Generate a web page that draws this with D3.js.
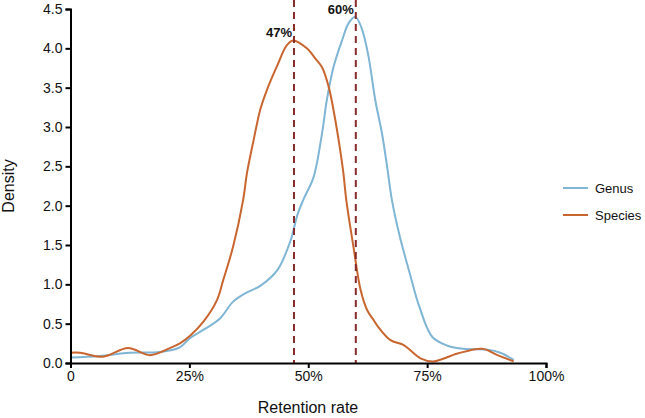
<!DOCTYPE html>
<html><head><meta charset="utf-8">
<script src="https://cdn.jsdelivr.net/npm/d3@7"></script>
<style>body{margin:0;background:#fff}text{font-family:"Liberation Sans",Arial,sans-serif}</style>
</head><body><svg id="c" width="645" height="418"></svg>
<script>
const genusX = [0,6.2,12.5,18.8,23,25.2,27.9,31.5,34.2,37.2,39.9,43.5,46.3,47.7,49,51.1,52.9,53.9,55.3,57.1,58.5,59.9,61.2,62.6,64.1,65.5,66.6,67.6,69.2,71.3,73.4,76.1,79.3,82.6,87.7,90.4,93.2];
const genusY = [0.07,0.09,0.13,0.14,0.2,0.32,0.42,0.57,0.78,0.9,0.98,1.18,1.56,1.88,2.08,2.36,2.92,3.34,3.76,4.1,4.32,4.4,4.26,3.92,3.34,2.92,2.49,2.07,1.62,1.15,0.71,0.33,0.22,0.18,0.17,0.13,0.04];
const speciesX = [0,2,6.8,12.1,16.7,20.9,23,25.2,28,30.8,32.1,34.2,36.3,37.1,38.5,39.9,41.3,43.4,45.5,46.8,49.7,51.5,52.9,54.3,55.3,56.4,57.4,58,59.5,61,62.4,63.7,64.7,67.3,70,73.6,76.3,81.4,86.6,89.8,93.2];
const speciesY = [0.13,0.13,0.08,0.19,0.10,0.19,0.25,0.35,0.53,0.8,1.05,1.48,2.07,2.41,2.83,3.22,3.47,3.77,4.04,4.10,4.0,3.87,3.76,3.51,3.22,2.83,2.41,2.07,1.48,0.93,0.67,0.55,0.46,0.29,0.23,0.06,0.02,0.12,0.18,0.10,0.02];
const xTicks = [0,25,50,75,100];
const xTickLabels = ["0","25%","50%","75%","100%"];
const yTicks = [0,0.5,1,1.5,2,2.5,3,3.5,4,4.5];
const medians = [47,60];
const medianLabels = ["47%","60%"];
const seriesNames = ["Genus","Species"];
const seriesColors = ["#7fb5d5","#c9652f"];

const svg = d3.select("#c");
const x = d3.scaleLinear().domain([0,100]).range([70.5,546]);
const y = d3.scaleLinear().domain([0,4.5]).range([363,9]);

const line = d3.line().x(d=>x(d[0])).y(d=>y(d[1])).curve(d3.curveCatmullRom.alpha(0.5));
const series = [d3.zip(genusX,genusY), d3.zip(speciesX,speciesY)];
series.forEach((s,i)=>{
  svg.append("path").attr("d",line(s)).attr("fill","none").attr("stroke",seriesColors[i]).attr("stroke-width",2);
});

medians.forEach((m,i)=>{
  svg.append("line").attr("x1",x(m)).attr("x2",x(m)).attr("y1",0).attr("y2",y(0))
    .attr("stroke","#8a2b2b").attr("stroke-width",2).attr("stroke-dasharray","7,5");
  const pk = i===0 ? d3.max(speciesY) : d3.max(genusY);
  svg.append("text").attr("x",x(m)-2).attr("y",y(pk)-3).attr("text-anchor","end")
    .attr("font-size",13).attr("font-weight","bold").attr("fill","#111").text(medianLabels[i]);
});

const xa = svg.append("g").attr("transform","translate(0,363)")
  .call(d3.axisBottom(x).tickValues(xTicks).tickFormat((d,i)=>xTickLabels[i]).tickSize(5).tickPadding(3));
const ya = svg.append("g").attr("transform","translate(70.5,0)")
  .call(d3.axisLeft(y).tickValues(yTicks).tickFormat(d3.format(".1f")).tickSize(5).tickPadding(3));
[xa,ya].forEach(a=>{
  a.select(".domain").attr("stroke","#000").attr("stroke-width",2);
  a.selectAll(".tick line").attr("stroke","#000").attr("stroke-width",2);
  a.selectAll("text").attr("font-size",14).attr("fill","#111").attr("font-family","'Liberation Sans',Arial,sans-serif");
});

svg.append("text").attr("x",308).attr("y",413).attr("text-anchor","middle").attr("font-size",16).attr("fill","#111").text("Retention rate");
svg.append("text").attr("transform","translate(14,186) rotate(-90)").attr("text-anchor","middle").attr("font-size",16).attr("fill","#111").text("Density");

seriesNames.forEach((n,i)=>{
  const yy = 188 + i*27;
  svg.append("line").attr("x1",563).attr("x2",588).attr("y1",yy).attr("y2",yy).attr("stroke",seriesColors[i]).attr("stroke-width",2);
  svg.append("text").attr("x",595).attr("y",yy+5).attr("font-size",13).attr("fill","#111").text(n);
});
</script></body></html>
